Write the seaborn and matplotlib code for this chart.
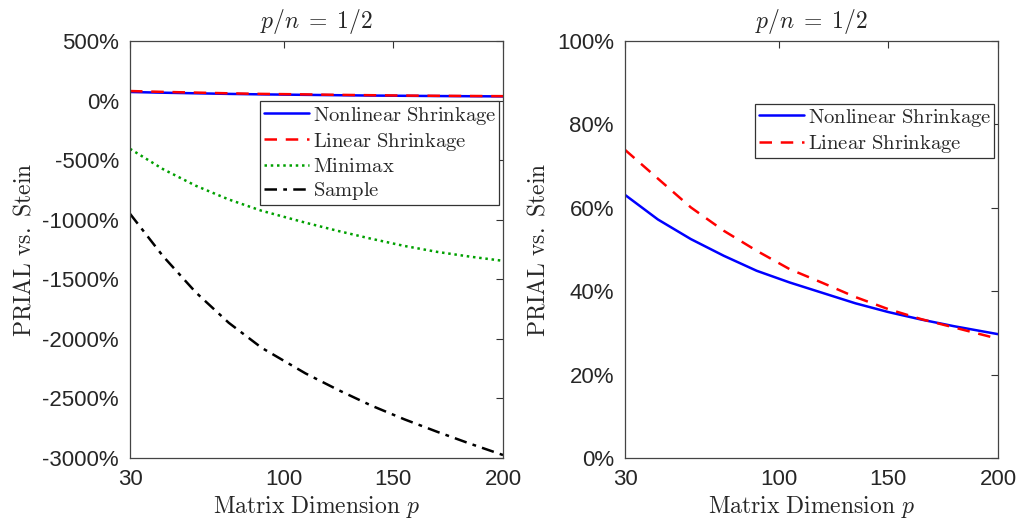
import numpy as np
import seaborn as sns
import matplotlib.pyplot as plt
import pandas as pd

# matrix dimension p (ratio p/n = 1/2)
dims_left = [30, 45, 60, 75, 90, 110, 125, 140, 155, 170, 185, 200]
dims_right = [30, 45, 60, 75, 90, 105, 120, 135, 150, 165, 180, 200]

# left panel: PRIAL vs Stein (%)
left_nonlinear = [72, 66, 61, 56, 52, 48, 45, 42, 40, 38, 36.5, 35]
left_linear = [80, 73, 67, 61, 56, 52, 48, 45, 42, 40, 38.5, 37]
left_minimax = [-405, -575, -715, -830, -925, -1025, -1095, -1160, -1220, -1270, -1310, -1345]
left_sample = [-950, -1305, -1610, -1865, -2075, -2290, -2430, -2560, -2675, -2780, -2880, -2975]

# right panel: PRIAL vs Stein (%)
right_nonlinear = [63.1, 57.2, 52.5, 48.5, 44.9, 42.1, 39.6, 37.1, 35.0, 33.2, 31.6, 29.7]
right_linear = [73.9, 67.0, 60.1, 54.5, 49.7, 45.3, 42.0, 38.6, 35.7, 33.3, 31.3, 28.6]

left_yticks = [500, 0, -500, -1000, -1500, -2000, -2500, -3000]
right_yticks = [0, 20, 40, 60, 80, 100]
xticks = [30, 100, 150, 200]

sns.set_style("white")
plt.rcParams["mathtext.fontset"] = "cm"
plt.rcParams["font.family"] = ["Liberation Sans", "DejaVu Sans"]

fig = plt.figure(figsize=(10.19, 5.23), dpi=100)
ax1 = fig.add_axes([130 / 1019, 1 - 458 / 523, 373 / 1019, 417 / 523])
ax2 = fig.add_axes([625 / 1019, 1 - 458 / 523, 373 / 1019, 417 / 523])

lab_nl = r"$\mathrm{Nonlinear\ Shrinkage}$"
lab_lin = r"$\mathrm{Linear\ Shrinkage}$"
lab_mm = r"$\mathrm{Minimax}$"
lab_smp = r"$\mathrm{Sample}$"

dash = (0, (5, 3.5))
dot = (0, (1, 1.5))
dashdot = (0, (5, 2.5, 1.5, 2.5))

sns.lineplot(x=dims_left, y=left_nonlinear, ax=ax1, color="#0000ff", lw=1.8, label=lab_nl)
sns.lineplot(x=dims_left, y=left_linear, ax=ax1, color="#ff0000", lw=1.8,
             linestyle=dash, label=lab_lin)
sns.lineplot(x=dims_left, y=left_minimax, ax=ax1, color="#00a000", lw=1.8,
             linestyle=dot, label=lab_mm)
sns.lineplot(x=dims_left, y=left_sample, ax=ax1, color="black", lw=1.8,
             linestyle=dashdot, label=lab_smp)

sns.lineplot(x=dims_right, y=right_nonlinear, ax=ax2, color="#0000ff", lw=1.8, label=lab_nl)
sns.lineplot(x=dims_right, y=right_linear, ax=ax2, color="#ff0000", lw=1.8,
             linestyle=dash, label=lab_lin)

for ax in (ax1, ax2):
    ax.set_xlim(30, 200)
    ax.set_xticks(xticks)
    ax.set_xticklabels([str(t) for t in xticks])
    ax.tick_params(direction="in", top=True, right=True, length=5, width=0.8,
                   labelsize=16, pad=8, color="#333333")
    for s in ax.spines.values():
        s.set_color("#444444")
        s.set_linewidth(0.9)
    ax.set_title(r"$p/n\;=\;1/2$", fontsize=17, pad=9)
    ax.set_xlabel(r"$\mathrm{Matrix\ Dimension}\ p$", fontsize=17, labelpad=3)
    ax.set_ylabel(r"$\mathrm{PRIAL\ vs.\ Stein}$", fontsize=17, labelpad=5)

ax1.set_ylim(-3000, 500)
ax1.set_yticks(left_yticks)
ax1.set_yticklabels([f"{t}%" for t in left_yticks])
ax2.set_ylim(0, 100)
ax2.set_yticks(right_yticks)
ax2.set_yticklabels([f"{t}%" for t in right_yticks])

leg_kw = dict(loc="upper right", fontsize=14.8, frameon=True, fancybox=False,
              framealpha=1, borderpad=0.15, labelspacing=0.2, handlelength=2.2,
              handletextpad=0.2, borderaxespad=0)
leg1 = ax1.legend(bbox_to_anchor=(0.99, 0.855), **leg_kw)
leg2 = ax2.legend(bbox_to_anchor=(0.99, 0.85), **leg_kw)
for leg in (leg1, leg2):
    leg.get_frame().set_edgecolor("#333333")
    leg.get_frame().set_linewidth(0.9)

plt.savefig("out.png", dpi=100)
